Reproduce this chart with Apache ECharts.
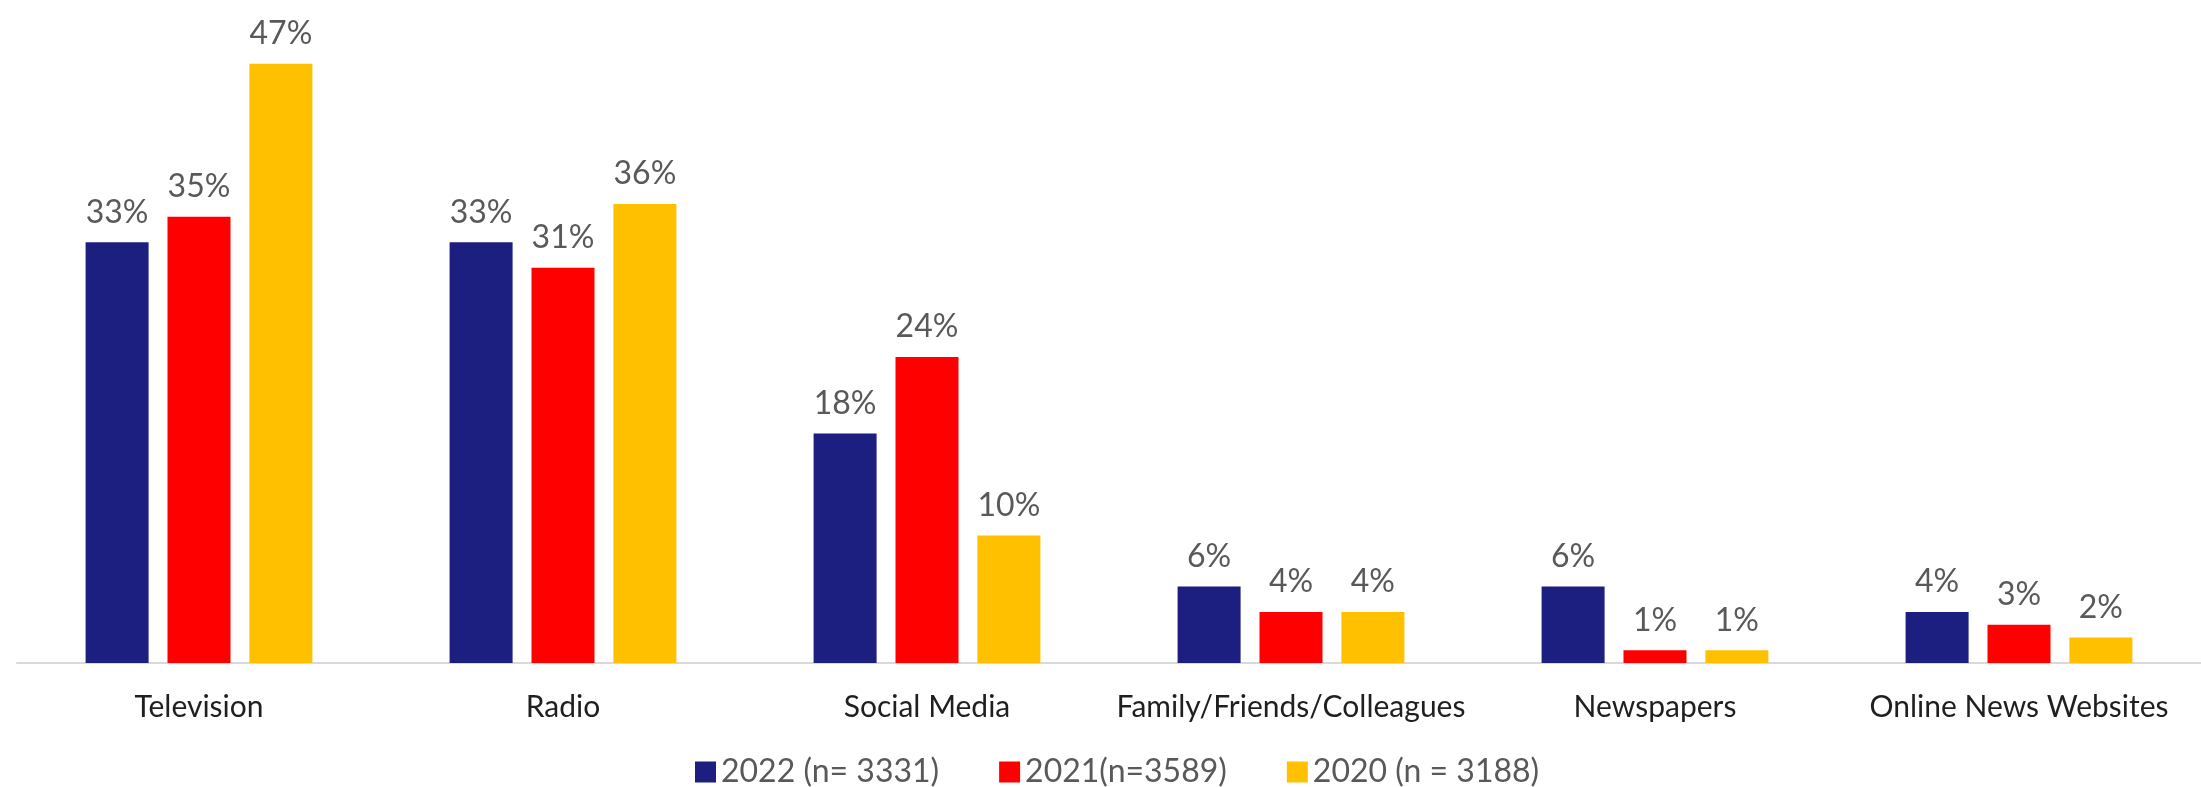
<!DOCTYPE html>
<html>
<head>
<meta charset="utf-8">
<script src="https://cdn.jsdelivr.net/npm/echarts@6/dist/echarts.min.js"></script>
<style>
  html, body { margin: 0; padding: 0; background: #ffffff; }
  #chart { width: 2201px; height: 787px; }
</style>
</head>
<body>
<div id="chart"></div>
<script>
// Main source of news, by survey year (percent of respondents)
const categories = ['Television', 'Radio', 'Social Media', 'Family/Friends/Colleagues', 'Newspapers', 'Online News Websites'];
const seriesNames = ['2022 (n= 3331)', '2021(n=3589)', '2020 (n = 3188)'];
const values2022 = [33, 33, 18, 6, 6, 4];
const values2021 = [35, 31, 24, 4, 1, 3];
const values2020 = [47, 36, 10, 4, 1, 2];
const colors = ['#1C1F80', '#FF0000', '#FFC000'];

const font = 'Lato, "Open Sans", sans-serif';

function makeSeries(name, data, color) {
  return {
    name: name,
    type: 'bar',
    data: data,
    barWidth: 63,
    barGap: '30%',
    itemStyle: { color: color },
    label: {
      show: true,
      position: 'top',
      distance: 14,
      formatter: '{c}%',
      color: '#595959',
      fontFamily: font,
      fontSize: 32
    }
  };
}

const chart = echarts.init(document.getElementById('chart'), null, { renderer: 'canvas' });
chart.setOption({
  animation: false,
  backgroundColor: '#ffffff',
  grid: { left: 17, top: 25.5, width: 2203, bottom: 124, containLabel: false },
  legend: {
    data: seriesNames,
    left: 690,
    top: 749,
    itemWidth: 21,
    itemHeight: 21,
    itemGap: 60,
    icon: 'rect',
    textStyle: { color: '#595959', fontFamily: font, fontSize: 32, lineHeight: 36 }
  },
  xAxis: {
    type: 'category',
    data: categories,
    axisLine: { show: true, lineStyle: { color: '#D9D9D9', width: 2 } },
    axisTick: { show: false },
    axisLabel: { color: '#1f1f1f', fontFamily: font, fontSize: 30, margin: 29, interval: 0 }
  },
  yAxis: {
    type: 'value',
    min: 0,
    max: 50,
    show: false,
    splitLine: { show: false }
  },
  series: [
    makeSeries(seriesNames[0], values2022, colors[0]),
    makeSeries(seriesNames[1], values2021, colors[1]),
    makeSeries(seriesNames[2], values2020, colors[2])
  ]
});
</script>
</body>
</html>
